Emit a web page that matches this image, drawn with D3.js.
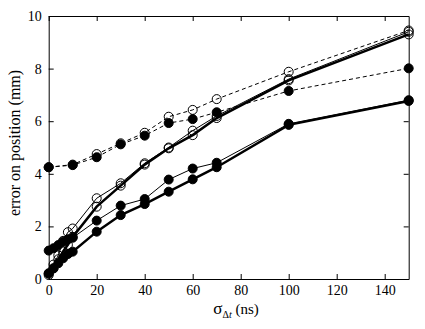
<!DOCTYPE html>
<html>
<head>
<meta charset="utf-8">
<script src="https://cdn.jsdelivr.net/npm/d3@7"></script>
<style>
  body { margin: 0; background: #fff; }
  svg text { font-family: "Liberation Serif", "Times New Roman", Times, "DejaVu Serif", serif; }
</style>
</head>
<body>
<div class="drawBoard"></div>
<script>
// data
const xFine = [0, 2, 4, 6, 8, 10, 20, 30, 40, 50, 60, 70, 100, 150];
const xCoarse = [0, 10, 20, 30, 40, 50, 60, 70, 100, 150];

const thickOpen  = [0.15, 0.4, 0.75, 1.05, 1.3, 1.6, 2.75, 3.55, 4.35, 4.97, 5.47, 6.12, 7.55, 9.3];
const thinOpen   = [0.2, 0.55, 0.9, 1.45, 1.78, 1.92, 3.07, 3.64, 4.4, 5.0, 5.64, 6.2, 7.6, 9.4];
const thinFilled = [1.08, 1.17, 1.29, 1.42, 1.51, 1.57, 2.22, 2.79, 3.04, 3.78, 4.2, 4.42, 5.9, 6.8];
const thickFilled = [0.22, 0.41, 0.6, 0.79, 0.95, 1.04, 1.8, 2.43, 2.85, 3.32, 3.79, 4.25, 5.86, 6.77];
const dashOpen   = [4.25, 4.35, 4.75, 5.16, 5.56, 6.17, 6.43, 6.84, 7.88, 9.45];
const dashFilled = [4.25, 4.33, 4.63, 5.12, 5.45, 5.93, 6.08, 6.34, 7.15, 8.01];

const xTicks = [0, 20, 40, 60, 80, 100, 120, 140];
const yTicks = [0, 2, 4, 6, 8, 10];

const width = 425, height = 329;
const padLeft = 48.7, padRight = 408.7, padTop = 16, padBottom = 279;

const svg = d3.select('.drawBoard').append('svg')
    .attr('width', width)
    .attr('height', height);

const x = d3.scaleLinear().domain([0, 150]).range([padLeft, padRight]);
const y = d3.scaleLinear().domain([0, 10]).range([padBottom, padTop]);

// axes, ticks pointing inward
svg.append('g').attr('transform', `translate(0,${padBottom})`)
    .call(d3.axisBottom(x).tickValues(xTicks).tickSizeInner(-5).tickSizeOuter(0).tickPadding(6));
svg.append('g').attr('transform', `translate(0,${padTop})`)
    .call(d3.axisTop(x).tickValues(xTicks).tickSizeInner(-5).tickSizeOuter(0).tickFormat(''));
svg.append('g').attr('transform', `translate(${padLeft},0)`)
    .call(d3.axisLeft(y).tickValues(yTicks).tickSizeInner(-5).tickSizeOuter(0).tickPadding(7));
svg.append('g').attr('transform', `translate(${padRight},0)`)
    .call(d3.axisRight(y).tickValues(yTicks).tickSizeInner(-5).tickSizeOuter(0).tickFormat(''));

svg.selectAll('g').attr('font-family', null);
svg.selectAll('.tick text')
    .attr('font-size', 14)
    .attr('fill', '#000');
svg.selectAll('.domain, .tick line').attr('stroke', '#000');

const line = d3.line().x(d => x(d[0])).y(d => y(d[1]));

function series(xs, ys, lw, dash, filled, r) {
    const pts = xs.map((v, i) => [v, ys[i]]);
    svg.append('path')
        .attr('d', line(pts))
        .attr('fill', 'none')
        .attr('stroke', '#000')
        .attr('stroke-width', lw)
        .attr('stroke-dasharray', dash);
    svg.append('g').selectAll('circle')
        .data(pts)
        .join('circle')
        .attr('cx', d => x(d[0]))
        .attr('cy', d => y(d[1]))
        .attr('r', r)
        .attr('fill', filled ? '#000' : 'none')
        .attr('stroke', '#000')
        .attr('stroke-width', 1);
}

series(xCoarse, dashOpen, 1, '4,3', false, 4.5);
series(xCoarse, dashFilled, 1, '4,3', true, 4.5);
series(xFine, thinOpen, 1, null, false, 4.5);
series(xFine, thickOpen, 2.5, null, false, 4.5);
series(xFine, thinFilled, 1, null, true, 4.5);
series(xFine, thickFilled, 2.5, null, true, 4.5);

// axis titles
svg.append('text')
    .attr('transform', `translate(20,143) rotate(-90)`)
    .attr('text-anchor', 'middle')
    .attr('font-size', 16)
    .text('error on position (mm)');

const xt = svg.append('text')
    .attr('x', 236)
    .attr('y', 314)
    .attr('text-anchor', 'middle')
    .attr('font-size', 15);
xt.append('tspan').attr('font-size', 17).text('σ');
xt.append('tspan').attr('font-size', 10).attr('dy', 4).text('Δ');
xt.append('tspan').attr('font-size', 10).attr('font-style', 'italic').text('t');
xt.append('tspan').attr('dy', -4).text(' (ns)');
</script>
</body>
</html>
